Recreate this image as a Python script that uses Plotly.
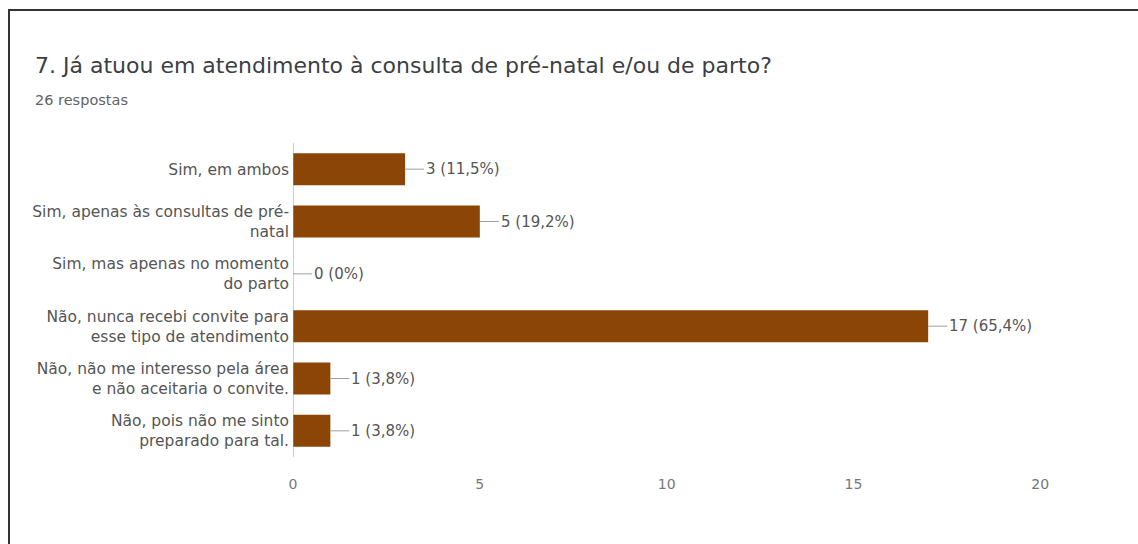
import plotly.graph_objects as go

# Survey answers (top to bottom) and response counts
categories = [
    "Sim, em ambos",
    "Sim, apenas às consultas de pré-<br>natal",
    "Sim, mas apenas no momento<br>do parto",
    "Não, nunca recebi convite para<br>esse tipo de atendimento",
    "Não, não me interesso pela área<br>e não aceitaria o convite.",
    "Não, pois não me sinto<br>preparado para tal.",
]
counts = [3, 5, 0, 17, 1, 1]
percent_labels = ["11,5%", "19,2%", "0%", "65,4%", "3,8%", "3,8%"]
x_ticks = [0, 5, 10, 15, 20]

title_text = "7. Já atuou em atendimento à consulta de pré-natal e/ou de parto?"
subtitle_text = "26 respostas"

W, H = 1138, 544
ML, MR, MT, MB = 293, 23, 143, 87
plot_w = W - ML - MR
plot_h = H - MT - MB
BAR = "#8b4507"
FONT = "DejaVu Sans"


def px_x(p):
    return (p - ML) / plot_w


def px_y(p):
    return (H - MB - p) / plot_h


ids = list(range(len(categories)))

fig = go.Figure(
    go.Bar(
        x=counts,
        y=ids,
        orientation="h",
        marker=dict(color=BAR, line=dict(width=0)),
        width=0.61,
        hoverinfo="skip",
    )
)

# Value labels with a short leader line after each bar
for i, (c, p) in enumerate(zip(counts, percent_labels)):
    fig.add_shape(
        type="line", xref="x", yref="y", xsizemode="pixel", xanchor=c,
        x0=0, x1=19, y0=i, y1=i,
        line=dict(color="#9e9e9e", width=1),
    )
    fig.add_annotation(
        x=c, y=i, xref="x", yref="y", text=f"{c} ({p})",
        showarrow=False, xanchor="left", xshift=19,
        font=dict(family=FONT, size=15, color="#555555"),
    )

# Title and response count
fig.add_annotation(
    x=px_x(33), y=px_y(66), xref="paper", yref="paper", text=title_text,
    showarrow=False, xanchor="left", yanchor="middle",
    font=dict(family=FONT, size=22, color="#3c4043"),
)
fig.add_annotation(
    x=px_x(33), y=px_y(100), xref="paper", yref="paper", text=subtitle_text,
    showarrow=False, xanchor="left", yanchor="middle",
    font=dict(family=FONT, size=14.5, color="#5f6368"),
)

# Card frame (left and top edges)
fig.add_shape(type="line", xref="paper", yref="paper",
              x0=px_x(9), x1=px_x(9), y0=px_y(10), y1=px_y(H + 5),
              line=dict(color="#333333", width=2))
fig.add_shape(type="line", xref="paper", yref="paper",
              x0=px_x(8), x1=px_x(W + 5), y0=px_y(10), y1=px_y(10),
              line=dict(color="#333333", width=2))

# Category axis line
fig.add_shape(type="line", xref="x", yref="paper",
              x0=0, x1=0, y0=0, y1=1,
              line=dict(color="#9e9e9e", width=1))

fig.update_layout(
    width=W, height=H,
    margin=dict(l=ML, r=MR, t=MT, b=MB, pad=0),
    paper_bgcolor="white", plot_bgcolor="white",
    showlegend=False,
    xaxis=dict(
        range=[0, 22], tickvals=x_ticks, showgrid=False, zeroline=False,
        showline=False, ticks="", ticklen=0, ticklabelstandoff=17,
        tickfont=dict(family=FONT, size=14, color="#777777"),
    ),
    yaxis=dict(
        range=[len(categories) - 0.5, -0.5], tickvals=ids, ticktext=categories,
        showgrid=False, zeroline=False, showline=False, ticks="",
        ticklabelstandoff=3,
        tickfont=dict(family=FONT, size=15.5, color="#555555"),
    ),
)

fig.write_html("out.html")
